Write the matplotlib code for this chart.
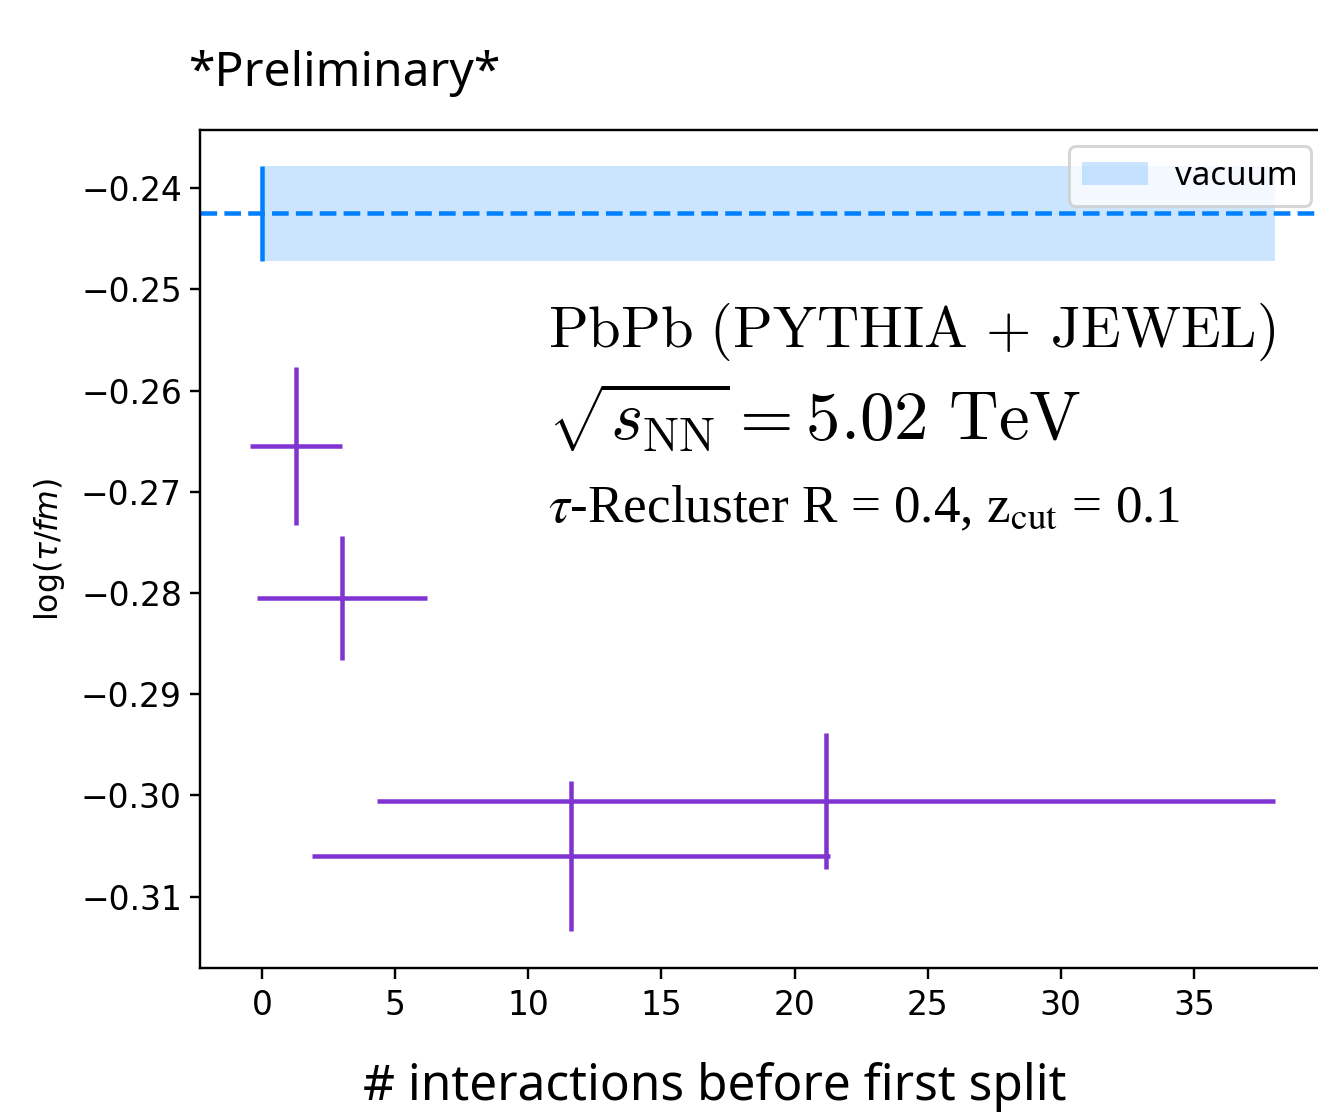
import matplotlib
matplotlib.use("Agg")
import matplotlib.pyplot as plt

# ---- data ----
n_interactions = [1.28, 3.0, 11.6, 21.18]
n_interactions_err = [1.72, 3.2, 9.73, 16.88]
log_tau = [-0.26548, -0.28049, -0.30597, -0.30054]
log_tau_err = [0.0078, 0.0061, 0.0074, 0.0067]

vacuum_x = [0.0]
vacuum_mean = -0.2425
vacuum_err = 0.0047

x_ticks = [0, 5, 10, 15, 20, 25, 30, 35]
y_ticks = [-0.31, -0.30, -0.29, -0.28, -0.27, -0.26, -0.25, -0.24]

blue = '#0080ff'
purple = '#7f33d1'

DPI = 216
fig = plt.figure(figsize=(1318 / DPI, 1115 / DPI), dpi=DPI)
ax = fig.add_axes([200 / 1318, (1115 - 968) / 1115, 1127 / 1318, 838 / 1115])

band_right = max(x + e for x, e in zip(n_interactions, n_interactions_err))
ax.fill_between([vacuum_x[0], band_right], vacuum_mean - vacuum_err, vacuum_mean + vacuum_err,
                color=blue, alpha=0.2, lw=0, label='vacuum')
ax.axhline(vacuum_mean, ls='--', color=blue, lw=1.5)
ax.errorbar(vacuum_x, [vacuum_mean], yerr=[vacuum_err], fmt='none', ecolor=blue, elinewidth=1.5)

ax.errorbar(n_interactions, log_tau, xerr=n_interactions_err, yerr=log_tau_err,
            fmt='none', ecolor=purple, elinewidth=1.5)

ax.set_xlim(-2.33, 40.0)
ax.set_ylim(-0.31704, -0.23427)
ax.set_xticks(x_ticks)
ax.set_yticks(y_ticks)
ax.tick_params(labelsize=11)
ax.tick_params(axis='y', pad=2.5)

ax.set_ylabel(r'log($\tau/fm$)', fontsize=10.5)
ax.yaxis.set_label_coords(-0.118, 0.5)

ax.set_xlabel('# interactions before first split', fontsize=16.5, fontfamily='Noto Sans')
ax.xaxis.set_label_coords(0.457, -132 / 838)
ax.xaxis.label.set_va('baseline')

fig.text(188 / 1318, (1115 - 86) / 1115, '*Preliminary*', fontsize=16,
         fontfamily='Noto Sans', va='baseline')

tx = (548 - 200) / 1127
ax.text(tx, (968 - 347) / 838, r'$\mathrm{PbPb\ (PYTHIA\,+\,JEWEL)}$', transform=ax.transAxes,
        fontsize=19.5, math_fontfamily='cm', va='baseline')
ax.text(tx, (968 - 440) / 838, r'$\sqrt{s_{\mathrm{NN}}} = 5.02\ \mathrm{TeV}$', transform=ax.transAxes,
        fontsize=23, math_fontfamily='cm', va='baseline')
ax.text(tx, (968 - 522) / 838, r'$\tau$-Recluster R = 0.4, z$_{\mathrm{cut}}$ = 0.1', transform=ax.transAxes,
        fontsize=17.7, fontfamily='Liberation Serif', math_fontfamily='stix', va='baseline')

ax.legend(loc='upper right', prop={'family': 'Noto Sans', 'size': 11})

fig.savefig('out.png', dpi=DPI)
